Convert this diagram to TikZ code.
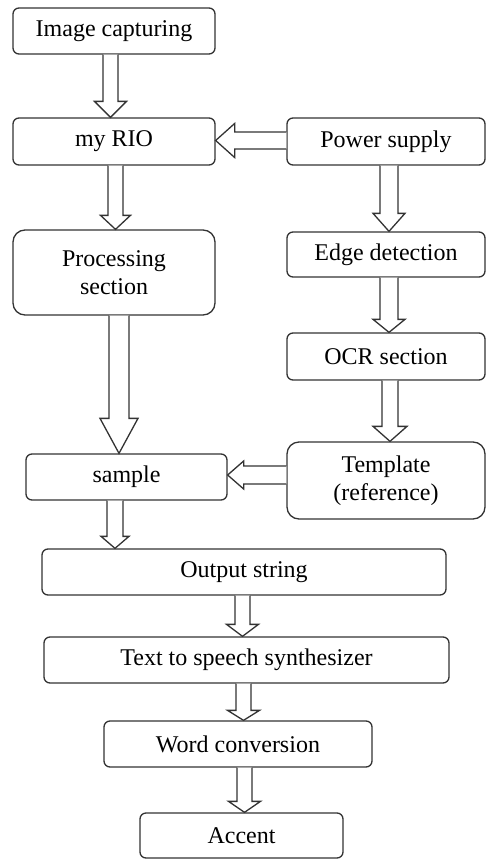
\documentclass[tikz,border=0pt]{standalone}
\usepackage{fontspec}
\setmainfont{Liberation Serif}
\newfontfamily\tnrfont{Liberation Serif}
\usetikzlibrary{calc}
\definecolor{lc}{HTML}{333333}
\tikzset{
  box/.style={draw=lc, line width=1.3pt, inner sep=0pt, align=center,
    font=\tnrfont\fontsize{24}{28}\selectfont, text=black},
  harrowst/.style={draw=lc, line width=1.3pt, line join=miter, fill=white}
}
% vertical hollow arrow: from, to, xshift, shaft half width, head half width, head length
\newcommand{\vharrow}[6]{%
  \path ($(#1.south)+(#3,0)$) coordinate (s) (s |- #2.north) coordinate (t);
  \draw[harrowst] ($(s)+(-#4,0)$) -- ($(t)+(-#4,-#6)$) -- ($(t)+(-#5,-#6)$) -- (t)
    -- ($(t)+(#5,-#6)$) -- ($(t)+(#4,-#6)$) -- ($(s)+(#4,0)$);
}
% horizontal (leftward) hollow arrow
\newcommand{\hharrow}[6]{%
  \path ($(#1.west)+(0,#3)$) coordinate (s) (s -| #2.east) coordinate (t);
  \draw[harrowst] ($(s)+(0,-#4)$) -- ($(t)+(#6,-#4)$) -- ($(t)+(#6,-#5)$) -- (t)
    -- ($(t)+(#6,#5)$) -- ($(t)+(#6,#4)$) -- ($(s)+(0,#4)$);
}
\begin{document}
\begin{tikzpicture}[x=1pt, y=-1pt]
\useasboundingbox (0,0) rectangle (486,859);
% boxes
\node[box, minimum width=202pt, minimum height=46pt, rounded corners=6pt] (ic) at (114,31) {Image capturing};
\node[box, minimum width=202pt, minimum height=47pt, rounded corners=6pt] (rio) at (114,141.5) {my RIO};
\node[box, minimum width=198pt, minimum height=47pt, rounded corners=6pt] (ps) at (386,141.5) {Power supply};
\node[box, minimum width=202pt, minimum height=85pt, rounded corners=12pt] (proc) at (114,272.5) {Processing\\section};
\node[box, minimum width=198pt, minimum height=45pt, rounded corners=6pt] (edge) at (386,254.5) {Edge detection};
\node[box, minimum width=198pt, minimum height=47pt, rounded corners=6pt] (ocr) at (386,356.5) {OCR section};
\node[box, minimum width=198pt, minimum height=77pt, rounded corners=12pt] (tmpl) at (386,480.5) {Template\\(reference)};
\node[box, minimum width=201pt, minimum height=46pt, rounded corners=6pt] (smp) at (126.5,477) {sample};
\node[box, minimum width=404pt, minimum height=46pt, rounded corners=6pt] (out) at (244,572) {Output string};
\node[box, minimum width=405pt, minimum height=46pt, rounded corners=6pt] (tts) at (246.5,660) {Text to speech synthesizer};
\node[box, minimum width=268pt, minimum height=46pt, rounded corners=6pt] (word) at (238,744) {Word conversion};
\node[box, minimum width=203pt, minimum height=45pt, rounded corners=6pt] (acc) at (241.5,835.5) {Accent};
% arrows
\vharrow{ic}{rio}{-3.5}{7.5}{16}{16}
\vharrow{rio}{proc}{1.5}{7.5}{15}{14}
\hharrow{ps}{rio}{-1}{8.5}{17}{19}
\vharrow{ps}{edge}{3}{9}{16}{18}
\vharrow{edge}{ocr}{3}{9}{16}{13}
\vharrow{ocr}{tmpl}{4}{8}{17}{15}
\vharrow{proc}{smp}{5}{10}{19}{35}
\hharrow{tmpl}{smp}{-5.5}{9}{14}{16}
\vharrow{smp}{out}{-11.5}{8}{14}{12}
\vharrow{out}{tts}{-1.5}{7.5}{16}{12}
\vharrow{tts}{word}{-3}{7.5}{16}{10}
\vharrow{word}{acc}{6.5}{7.5}{16}{11}
\end{tikzpicture}
\end{document}
